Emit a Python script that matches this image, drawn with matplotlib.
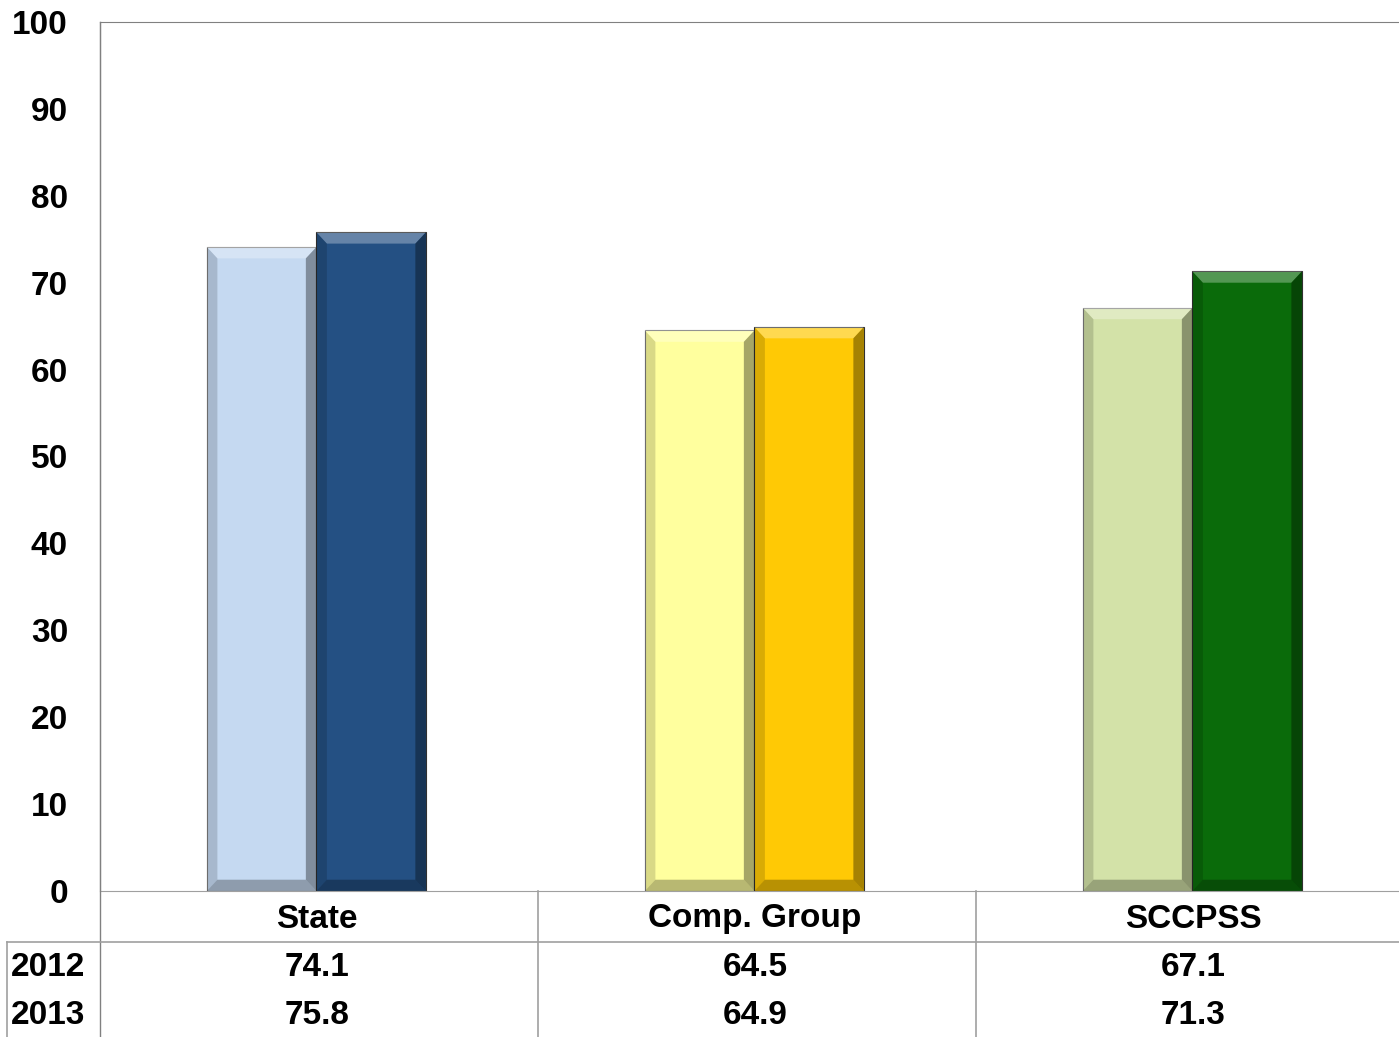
import matplotlib.pyplot as plt
from matplotlib.patches import Polygon
from matplotlib.lines import Line2D

plt.rcParams['font.family'] = ['Liberation Sans', 'DejaVu Sans']
plt.rcParams['font.weight'] = 'bold'

groups = ['State', 'Comp. Group', 'SCCPSS']
years = ['2012', '2013']
vals2012 = [74.1, 64.5, 67.1]
vals2013 = [75.8, 64.9, 71.3]
light = ['#C5D9F1', '#FFFF9E', '#D3E2A8']
dark = ['#245083', '#FFC905', '#0A6B0A']
yticks = [0, 10, 20, 30, 40, 50, 60, 70, 80, 90, 100]

W, H = 1399, 1037
fig = plt.figure(figsize=(W / 100, H / 100), dpi=100)
# plot area runs a little past the right edge of the picture
ax = fig.add_axes([100 / W, 1 - 891 / H, 1314 / W, (891 - 22) / H])

x = range(len(groups))
bw = 0.25
b1 = ax.bar([i - bw / 2 - 0.006 for i in x], vals2012, bw, color=light, edgecolor='#7f7f7f', linewidth=0.8)
b2 = ax.bar([i + bw / 2 - 0.006 for i in x], vals2013, bw, color=dark, edgecolor='#303030', linewidth=0.8)


def bevel(rect):
    x0, y0 = rect.get_x(), rect.get_y()
    w, h = rect.get_width(), rect.get_height()
    dx, dy = 0.024, 1.3
    x1, y1 = x0 + w, y0 + h
    ax.add_patch(Polygon([(x0, y1), (x1, y1), (x1 - dx, y1 - dy), (x0 + dx, y1 - dy)],
                         closed=True, facecolor='white', alpha=0.3, lw=0))
    ax.add_patch(Polygon([(x0, y0), (x0, y1), (x0 + dx, y1 - dy), (x0 + dx, y0 + dy)],
                         closed=True, facecolor='black', alpha=0.15, lw=0))
    ax.add_patch(Polygon([(x1, y0), (x1, y1), (x1 - dx, y1 - dy), (x1 - dx, y0 + dy)],
                         closed=True, facecolor='black', alpha=0.35, lw=0))
    ax.add_patch(Polygon([(x0, y0), (x1, y0), (x1 - dx, y0 + dy), (x0 + dx, y0 + dy)],
                         closed=True, facecolor='black', alpha=0.28, lw=0))


for r in list(b1) + list(b2):
    bevel(r)

ax.set_xlim(-0.5, 2.5)
ax.set_ylim(0, 100)
ax.set_yticks(yticks)
ax.set_yticklabels([str(t) for t in yticks], fontsize=24, fontweight='bold')
ax.tick_params(axis='y', length=0, pad=23)
ax.set_xticks([])
for s in ['left', 'top']:
    ax.spines[s].set_color('#808080')
ax.spines['bottom'].set_color('#a0a0a0')
ax.spines['right'].set_visible(False)

# data table below the axes, in figure pixel coordinates
ov = fig.add_axes([0, 0, 1, 1], facecolor='none')
ov.set_xlim(0, W)
ov.set_ylim(H, 0)
ov.axis('off')
gc = '#a0a0a0'
col_edges = [100, 538, 976, 1414]
ov.add_line(Line2D([100, 100], [22, H], color='#808080', lw=1))
ov.add_line(Line2D([7, W], [942, 942], color=gc, lw=1.2))
ov.add_line(Line2D([7, 7], [942, H], color=gc, lw=1.2))
for xe in col_edges[1:3]:
    ov.add_line(Line2D([xe, xe], [891, H], color=gc, lw=1.2))

centers = [(col_edges[i] + col_edges[i + 1]) / 2 - 2 for i in range(3)]
for c, g in zip(centers, groups):
    ov.text(c, 919, g, ha='center', va='center', fontsize=24, fontweight='bold')
rows = [vals2012, vals2013]
for j, (yr, vals) in enumerate(zip(years, rows)):
    yy = 967 + j * 49
    ov.text(11, yy, yr, ha='left', va='center', fontsize=24, fontweight='bold')
    for c, v in zip(centers, vals):
        ov.text(c, yy, f'{v:.1f}', ha='center', va='center', fontsize=24, fontweight='bold')

fig.savefig('out.png', dpi=100)
